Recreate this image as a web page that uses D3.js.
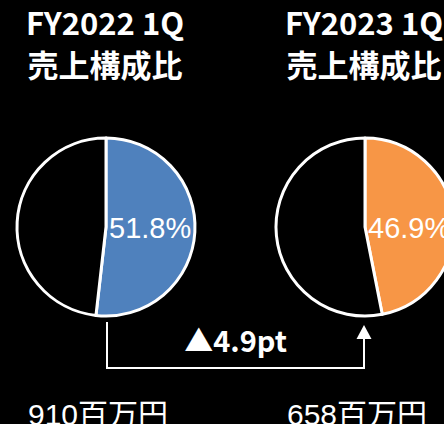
<!DOCTYPE html>
<html>
<head>
<meta charset="utf-8">
<script src="https://cdn.jsdelivr.net/npm/d3@7"></script>
<style>
	html, body { margin: 0; padding: 0; background: #000; overflow: hidden; }
</style>
</head>
<body>
<svg id="graphic" width="444" height="424"></svg>
<script>
// data
var periods = ["FY2022 1Q", "FY2023 1Q"];
var subtitle = "売上構成比";
var shares = [51.8, 46.9]; // %
var sales = [910, 658]; // 百万円
var salesUnit = "百万円";
var diffLabel = "▲4.9pt";
var sliceColors = ["#4f81bd", "#f79646"];

var W = 444, H = 424;
var R = 89; // px
var CY = 227;

var svg = d3.select("#graphic");
svg.append("rect").attr("width", W).attr("height", H).attr("fill", "#000");

var x = d3.scalePoint()
	.domain(periods)
	.range([106, 365]);

var pie = d3.pie().sort(null).value(function(d) { return d; });
var arc = d3.arc().innerRadius(0).outerRadius(R);

var jpFont = "'Noto Sans CJK JP', 'Noto Sans', sans-serif";

periods.forEach(function(p, i) {
	var cx = x(p);

	// title
	var t = svg.append("text")
		.attr("x", cx)
		.attr("text-anchor", "middle")
		.attr("fill", "#fff")
		.attr("font-family", jpFont)
		.attr("font-weight", "bold")
		.attr("font-size", 31);
	t.append("tspan").attr("x", cx - 1).attr("y", 35).text(p);
	t.append("tspan").attr("x", cx - 1).attr("y", 77).text(subtitle);

	// pie
	var g = svg.append("g").attr("transform", "translate(" + cx + "," + CY + ")");
	g.selectAll("path")
		.data(pie([shares[i], 100 - shares[i]]))
		.enter().append("path")
			.attr("d", arc)
			.attr("fill", function(d, j) { return j == 0 ? sliceColors[i] : "#000"; })
			.attr("stroke", "#fff")
			.attr("stroke-width", 3)
			.attr("stroke-linejoin", "round");

	g.append("text")
		.attr("x", 3)
		.attr("y", 11)
		.attr("fill", "#fff")
		.attr("font-family", "'Liberation Sans', Arial, sans-serif")
		.attr("font-size", 29)
		.text(shares[i].toFixed(1) + "%");

	// sales amount
	svg.append("text")
		.attr("x", cx - 8)
		.attr("y", 425)
		.attr("text-anchor", "middle")
		.attr("fill", "#fff")
		.attr("font-family", "'Liberation Sans', 'Noto Sans CJK JP', sans-serif")
		.attr("font-size", 30)
		.text(sales[i] + salesUnit);
});

// connector arrow
var x0 = x(periods[0]) + 1, x1 = x(periods[1]) - 1;
svg.append("path")
	.attr("d", "M" + x0 + ",322V368H" + x1 + "V338")
	.attr("fill", "none")
	.attr("stroke", "#fff")
	.attr("stroke-width", 2);
svg.append("path")
	.attr("d", "M" + x1 + ",325L" + (x1 + 7.5) + ",339L" + (x1 - 7.5) + ",339Z")
	.attr("fill", "#fff");

svg.append("text")
	.attr("x", (x0 + x1) / 2)
	.attr("y", 352)
	.attr("text-anchor", "middle")
	.attr("fill", "#fff")
	.attr("font-family", jpFont)
	.attr("font-weight", "bold")
	.attr("font-size", 29)
	.text(diffLabel);
</script>
</body>
</html>
